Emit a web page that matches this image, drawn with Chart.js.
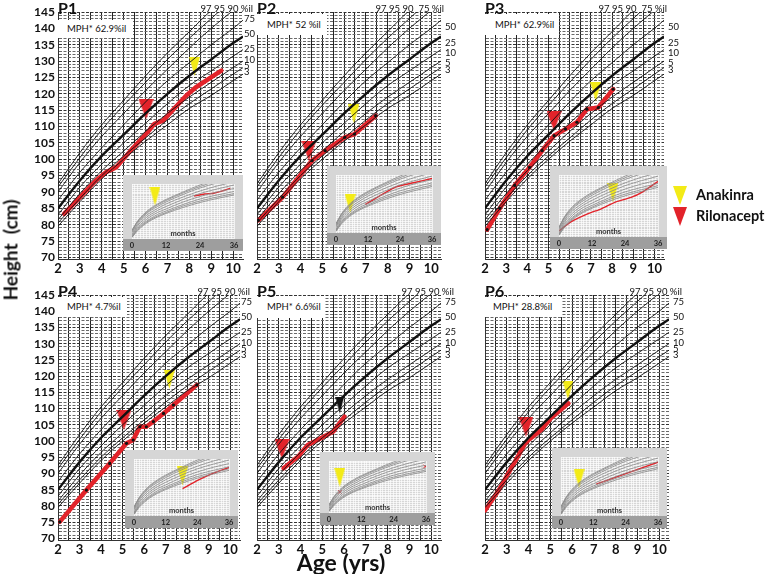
<!DOCTYPE html>
<html>
<head>
<meta charset="utf-8">
<script src="https://cdn.jsdelivr.net/npm/chart.js@4.4.1/dist/chart.umd.min.js"></script>
<style>
  body { margin: 0; width: 766px; height: 574px; position: relative; background: #fff; overflow: hidden;
         font-family: Lato, 'Open Sans', sans-serif; color: #111; }
  canvas { position: absolute; }
  .txt { position: absolute; white-space: nowrap; line-height: 1; }
</style>
</head>
<body>
<script>
// ---- stature-for-age reference curves (cm), ages 2..10 yrs ----
const ageYears = [2, 3, 4, 5, 6, 7, 8, 9, 10, 10.45];
const stature3  = [79.5, 87, 94, 100, 105.5, 110.5, 115.5, 119.5, 124, 126];
const stature5  = [80.5, 88, 95, 101, 106.5, 112, 117, 121.5, 126, 128];
const stature10 = [81.5, 89.5, 96.5, 102.5, 108.5, 114, 119, 123.5, 128, 130];
const stature25 = [83, 91.5, 98.5, 105, 111, 117, 122.5, 127, 131.5, 133.5];
const stature50 = [85, 93.5, 101, 107.5, 114, 120, 125.5, 130.5, 135.5, 137.5];
const stature75 = [87.5, 96, 103.5, 110.5, 117.5, 124, 129.5, 135, 140, 142.5];
const stature90 = [90, 99, 107, 114, 121, 127.5, 134, 140, 145.5, 148];
const stature95 = [91.5, 100.5, 109, 116.5, 123.5, 130.5, 137, 143, 149, 151.5];
const stature97 = [92.5, 102, 110.5, 118, 125.5, 132.5, 139, 145.5, 151, 153.5];

// ---- inset length-for-age curves (cm), 0..36 months ----
const infantMonths = [0, 2, 4, 6, 9, 12, 18, 24, 30, 36];
const length3  = [46.5, 53.5, 58.5, 62.5, 67, 70.5, 76.5, 81.5, 85.5, 89];
const length5  = [47, 54.5, 59.5, 63.5, 68, 71.5, 78, 83, 87, 90.5];
const length10 = [47.5, 55.5, 60.5, 64.5, 69.5, 73, 79.5, 85, 89, 92.5];
const length25 = [48.5, 57, 62, 66.5, 71.5, 75, 82, 87.5, 92, 95.5];
const length50 = [50, 58.5, 64, 68.5, 73.5, 77.5, 84.5, 90.5, 95, 99];
const length75 = [51.5, 60, 66, 70.5, 75.5, 80, 87, 93, 98, 102];
const length90 = [52.5, 61.5, 67.5, 72.5, 77.5, 82, 89.5, 96, 101, 105];
const length95 = [53.5, 62.5, 68.5, 73.5, 79, 83.5, 91, 97.5, 103, 107];
const length97 = [54, 63, 69.5, 74.5, 80, 84.5, 92, 99, 104.5, 109];

// ---- patients: [age yrs, height cm] ----
const p1Growth = [[2.28, 83.3], [3.73, 93.5], [4.19, 96], [4.65, 97.5], [5.33, 102.7], [6.1, 108.3], [6.4, 110.8], [6.8, 111.8], [7.86, 119.5], [8.3, 122], [9.46, 127.1]];
const p2Growth = [[2.06, 81.3], [3.18, 88.4], [4.53, 99.6], [5.13, 102.6], [6.03, 106.7], [6.48, 107.7], [7.45, 113.3]];
const p3Growth = [[2.1, 78.5], [2.7, 85], [3.4, 92], [4.1, 97.5], [4.7, 102.6], [5.26, 107.2], [5.8, 109.2], [6.34, 111.3], [6.81, 115.3], [7.35, 115.8], [8.05, 121.4]];
const p4Growth = [[2.08, 75.1], [3.32, 84.9], [4.4, 93.1], [5.18, 99.3], [5.49, 100.3], [5.8, 104.4], [6.1, 104.4], [6.43, 106], [6.9, 108.5], [7.36, 111.1], [8.45, 117.3]];
const p5Growth = [[3.22, 91.6], [3.89, 95.2], [4.33, 98.8], [5.06, 101.3], [5.5, 102.9], [6.02, 107.5]];
const p6Growth = [[2.0, 78.6], [2.68, 85.4], [3.85, 99.3], [4.0, 100.3], [4.58, 103.4], [5.02, 107], [5.83, 111.6]];

// treatment start markers: [drug, age yrs, height cm]
const p1Marks = [['rilonacept', 6.02, 115.3], ['anakinra', 8.24, 128.4]];
const p2Marks = [['rilonacept', 4.38, 102.6], ['anakinra', 6.45, 113.9]];
const p3Marks = [['rilonacept', 5.26, 111.7], ['anakinra', 7.23, 120.6]];
const p4Marks = [['rilonacept', 5.06, 106.5], ['anakinra', 7.17, 119]];
const p5Marks = [['rilonacept', 3.15, 97.5], ['other', 5.8, 111.1]];
const p6Marks = [['rilonacept', 3.88, 104.4], ['anakinra', 5.81, 115.7]];

// inset growth: [months, cm]
const p1Infant = [[21.9, 88], [25.6, 90], [28.8, 90.8], [31, 92.3], [34.7, 95.7]];
const p2Infant = [[11, 72.1], [22.3, 88.5], [29.1, 92.6], [36, 96.7]];
const p3Infant = [[0, 50.4], [4.2, 58.2], [10.8, 65.9], [15.2, 69.8], [20.7, 76.2], [26.2, 80.1], [30.6, 85.3], [36, 94.3]];
const p4Infant = [[18.4, 71.3], [24.3, 79.5], [30.1, 86.3], [36, 91.8]];
const p5Infant = [[4, 67.3], [35.7, 94.3]];
const p6Infant = [[13.1, 74.7], [36, 95.1]];
const infantAnakinra = { P1: [8.1, 88], P2: [5.3, 72.9], P3: [19.6, 84.5], P4: [18.4, 83.6], P5: [4, 82.9], P6: [6.7, 80.2] };

const mphText = { P1: 'MPH* 62.9%il', P2: 'MPH* 52 %il', P3: 'MPH* 62.9%il', P4: 'MPH* 4.7%il', P5: 'MPH* 6.6%il', P6: 'MPH* 28.8%il' };

// tick labels
const ageTicks = Array.from({ length: 17 }, (_, i) => 2 + i * 0.5);
const heightTicks = Array.from({ length: 76 }, (_, i) => 70 + i);
const monthTicks = Array.from({ length: 37 }, (_, i) => i);
const lengthTicks = Array.from({ length: 28 }, (_, i) => 46 + i * 2);

const statureCurves = [['3', stature3], ['5', stature5], ['10', stature10], ['25', stature25], ['50', stature50],
                       ['75', stature75], ['90', stature90], ['95', stature95], ['97', stature97]];
const lengthCurves = [length3, length5, length10, length25, length50, length75, length90, length95, length97];

// ---- layout ----
const panels = [
  { key: 'P1', x: 58,  y: 12,  w: 185, h: 247, yLabels: true,  growth: p1Growth, marks: p1Marks, infant: p1Infant, inset: [123, 175, 120, 76], kind: 'A', mphBox: [57, 20, 76, 18] },
  { key: 'P2', x: 257, y: 12,  w: 187, h: 247, yLabels: false, growth: p2Growth, marks: p2Marks, infant: p2Infant, inset: [327, 166, 114, 79], kind: 'B', mphBox: [257, 14, 70, 21], dots: true },
  { key: 'P3', x: 485, y: 12,  w: 182, h: 247, yLabels: false, growth: p3Growth, marks: p3Marks, infant: p3Infant, inset: [550, 166, 117, 83], kind: 'B', mphBox: [485, 14, 74, 21], dots: true },
  { key: 'P4', x: 58,  y: 295, w: 182, h: 245, yLabels: true,  growth: p4Growth, marks: p4Marks, infant: p4Infant, inset: [125, 450, 113, 78], kind: 'A', mphBox: [57, 297, 70, 20], dots: true },
  { key: 'P5', x: 257, y: 295, w: 187, h: 245, yLabels: false, growth: p5Growth, marks: p5Marks, infant: p5Infant, inset: [320, 452, 115, 73], kind: 'A', mphBox: [257, 296, 68, 22], insetDots: true },
  { key: 'P6', x: 485, y: 295, w: 187, h: 245, yLabels: false, growth: p6Growth, marks: p6Marks, infant: p6Infant, inset: [552, 448, 115, 80], kind: 'A', mphBox: [483, 297, 79, 20] },
];

const RED = '#e2232a', YELLOW = '#f3eb17';

Chart.defaults.font.family = "Lato, 'Open Sans', sans-serif";
Chart.defaults.color = '#111';

function triangle(color, w, h) {
  const c = document.createElement('canvas');
  c.width = w; c.height = h;
  const g = c.getContext('2d');
  g.fillStyle = color;
  g.beginPath(); g.moveTo(0, 0); g.lineTo(w, 0); g.lineTo(w / 2, h); g.closePath(); g.fill();
  return c;
}
const markerImg = { rilonacept: triangle(RED, 15, 20), anakinra: triangle(YELLOW, 11, 19), other: triangle('#111', 9, 17) };

function addText(text, x, y, css) {
  const d = document.createElement('div');
  d.className = 'txt';
  d.textContent = text;
  d.style.cssText += css;
  d.style.left = x + 'px';
  d.style.top = y + 'px';
  document.body.appendChild(d);
  return d;
}

const insetBg = {
  id: 'insetBg',
  beforeDraw(chart) {
    const { ctx, chartArea: a, width, height } = chart;
    ctx.save();
    ctx.fillStyle = '#d6d6d6';
    ctx.fillRect(0, 0, width, height);
    ctx.fillStyle = '#9e9e9e';
    ctx.fillRect(0, a.bottom, width, height - a.bottom);
    ctx.restore();
  },
};

function drawPanel(p) {
  const yW = p.yLabels ? 32 : 0;
  const cv = document.createElement('canvas');
  cv.width = 6 + yW + p.w + 14;
  cv.height = 12 + p.h + 20;
  document.body.appendChild(cv);

  const datasets = statureCurves.map(([name, vals]) => ({
    data: ageYears.map((a, i) => ({ x: a, y: vals[i] })),
    borderColor: '#111',
    borderWidth: name === '50' ? 2.4 : 0.9,
    pointRadius: 0,
    cubicInterpolationMode: 'monotone',
  }));
  datasets.push({
    data: p.growth.map(([x, y]) => ({ x, y })),
    borderColor: RED, borderWidth: 4.5, tension: 0,
    pointRadius: p.dots ? 1.6 : 0, pointBackgroundColor: '#111', pointBorderWidth: 0,
    borderJoinStyle: 'round', borderCapStyle: 'round',
  });
  p.marks.forEach(([drug, x, y]) => datasets.push({
    data: [{ x, y }], showLine: false, pointRadius: 8, pointStyle: markerImg[drug],
  }));

  const chart = new Chart(cv, {
    type: 'line',
    data: { datasets },
    options: {
      responsive: false, animation: false, events: [],
      layout: { padding: { left: 6, right: 14, top: 12, bottom: 0 } },
      plugins: { legend: { display: false }, tooltip: { enabled: false } },
      scales: {
        x: {
          type: 'linear', min: 2, max: 10.45,
          afterBuildTicks: s => { s.ticks = ageTicks.map(v => ({ value: v })); },
          afterFit: s => { s.height = 20; },
          ticks: { autoSkip: false, maxRotation: 0, padding: 2, color: '#111',
                   font: { weight: 'bold', size: 13 },
                   callback: v => Number.isInteger(v) ? v : '' },
          grid: { color: '#222', lineWidth: 1, drawTicks: false },
          border: { color: '#333' },
        },
        y: {
          type: 'linear', min: 69.5, max: 145,
          afterBuildTicks: s => { s.ticks = heightTicks.map(v => ({ value: v })); },
          afterFit: s => { s.width = yW; },
          ticks: { display: p.yLabels, autoSkip: false, padding: 3, color: '#111',
                   font: { weight: 'bold', size: 12 },
                   callback: v => v % 5 === 0 ? v : '' },
          grid: { color: c => c.tick && c.tick.value % 5 === 0 ? '#333' : '#6a6a6a', lineWidth: 1, drawTicks: false },
          border: { color: '#333', dash: [3, 1.5] },
        },
      },
    },
  });
  const a = chart.chartArea;
  cv.style.left = (p.x - a.left) + 'px';
  cv.style.top = (p.y - a.top) + 'px';
}

function drawInset(p) {
  const [x, y, w, h] = p.inset;
  const cv = document.createElement('canvas');
  cv.width = w; cv.height = h;
  cv.style.left = x + 'px'; cv.style.top = y + 'px';
  document.body.appendChild(cv);

  const datasets = lengthCurves.map(vals => ({
    data: infantMonths.map((m, i) => ({ x: m, y: vals[i] })),
    borderColor: '#878787', borderWidth: 0.8, pointRadius: 0, cubicInterpolationMode: 'monotone',
  }));
  datasets.push(p.insetDots ? {
    data: p.infant.map(([x, y]) => ({ x, y })), showLine: false,
    pointStyle: 'crossRot', pointRadius: 2.5, borderColor: RED, borderWidth: 1,
  } : {
    data: p.infant.map(([x, y]) => ({ x, y })),
    borderColor: RED, borderWidth: 1.4, pointRadius: 0, tension: 0.2,
  });
  const [am, ah] = infantAnakinra[p.key];
  datasets.push({ data: [{ x: am, y: ah }], showLine: false, pointRadius: 8, pointStyle: markerImg.anakinra });

  new Chart(cv, {
    type: 'line',
    data: { datasets },
    plugins: [insetBg],
    options: {
      responsive: false, animation: false, events: [],
      layout: { padding: { left: 4, right: 5, top: 0, bottom: 0 } },
      plugins: { legend: { display: false }, tooltip: { enabled: false } },
      scales: {
        x: {
          type: 'linear', min: 0, max: 36,
          afterBuildTicks: s => { s.ticks = monthTicks.map(v => ({ value: v })); },
          afterFit: s => { s.height = 12; },
          ticks: { autoSkip: false, maxRotation: 0, padding: 2, color: '#222',
                   font: { weight: 'bold', size: 7.5 },
                   callback: v => v % 12 === 0 ? v : '' },
          grid: { color: 'rgba(255,255,255,0.85)', lineWidth: 0.8, drawTicks: false },
          border: { display: false },
        },
        y: {
          type: 'linear', min: 45, max: 100,
          afterBuildTicks: s => { s.ticks = lengthTicks.map(v => ({ value: v })); },
          afterFit: s => { s.width = 0; },
          ticks: { display: false },
          grid: { color: 'rgba(255,255,255,0.85)', lineWidth: 0.8, drawTicks: false },
          border: { display: false },
        },
      },
    },
  });
  addText('months', x + w / 2, y + h - 17, 'font-size:7.5px;font-weight:bold;color:#333;transform:translate(-50%,-50%);');
}

panels.forEach(drawPanel);
panels.forEach(drawInset);

// annotations
panels.forEach(p => {
  const [bx, by, bw, bh] = p.mphBox;
  addText(mphText[p.key], bx, by, `background:#fff;width:${bw}px;height:${bh}px;box-sizing:border-box;padding-left:10px;font-size:9.5px;display:flex;align-items:center;`);
  addText(p.key, p.x, p.y - 4, 'font-size:16px;font-weight:bold;transform:translateY(-50%);');
  const right = p.x + p.w;
  if (p.kind === 'A') {
    addText('97 95 90 %il', right + 10, p.y - 3, 'font-size:9.5px;transform:translate(-100%,-50%);');
    [['75', 7], ['50', 22], ['25', 36.5], ['10', 47.5], ['5', 53.5], ['3', 59.5]].forEach(([t, dy]) =>
      addText(t, right + 1, p.y + dy, 'font-size:9.5px;transform:translateY(-50%);'));
  } else {
    addText('97 95 90  75 %il', right, p.y - 3, 'font-size:9.5px;white-space:pre;transform:translate(-100%,-50%);');
    [['50', 14.5], ['25', 31], ['10', 41], ['5', 51], ['3', 58]].forEach(([t, dy]) =>
      addText(t, right + 1, p.y + dy, 'font-size:9.5px;transform:translateY(-50%);'));
  }
});

addText('Height  (cm)', 10, 250, 'font-size:19px;font-weight:bold;white-space:pre;transform:translate(-50%,-50%) rotate(-90deg);');
addText('Age (yrs)', 341, 562, 'font-size:23px;font-weight:bold;transform:translate(-50%,-50%);');

// legend
function legendTri(color, x, y, w, h) {
  const d = document.createElement('div');
  d.style.cssText = `position:absolute;left:${x}px;top:${y}px;width:0;height:0;border-left:${w / 2}px solid transparent;border-right:${w / 2}px solid transparent;border-top:${h}px solid ${color};`;
  document.body.appendChild(d);
}
legendTri(YELLOW, 673, 186, 14, 19);
legendTri(RED, 673, 207, 14, 19);
addText('Anakinra', 696, 195, 'font-size:14.5px;font-weight:bold;transform:translateY(-50%);');
addText('Rilonacept', 696, 216, 'font-size:14.5px;font-weight:bold;transform:translateY(-50%);');
</script>
</body>
</html>
